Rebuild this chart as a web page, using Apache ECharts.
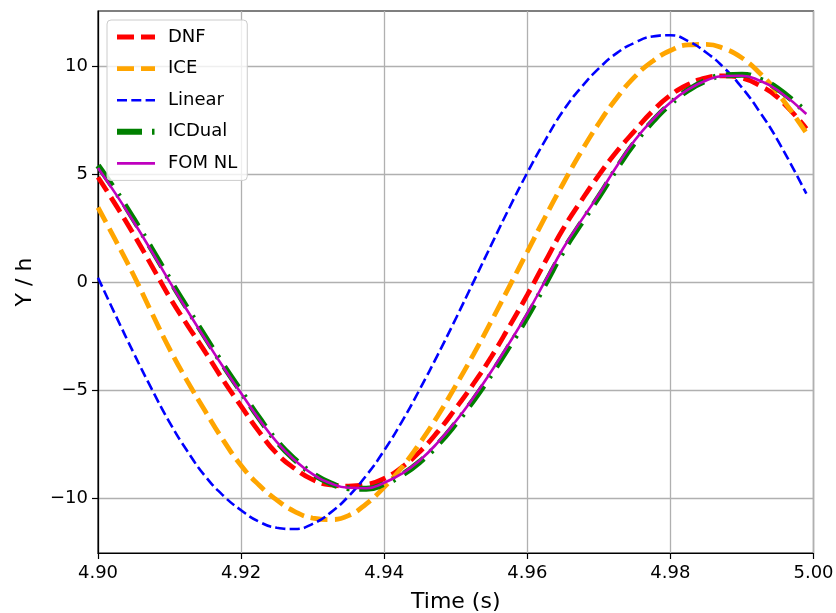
<!DOCTYPE html>
<html>
<head>
<meta charset="utf-8">
<script src="https://cdn.jsdelivr.net/npm/echarts@6/dist/echarts.min.js"></script>
<style>
html,body{margin:0;padding:0;background:#fff;}
#chart{width:836px;height:613px;}
</style>
</head>
<body>
<div id="chart"></div>
<script>
const time = [4.9000, 4.9025, 4.9050, 4.9075, 4.9100, 4.9125, 4.9150, 4.9175, 4.9200, 4.9225,
              4.9250, 4.9275, 4.9300, 4.9325, 4.9350, 4.9375, 4.9400, 4.9425, 4.9450, 4.9475,
              4.9500, 4.9525, 4.9550, 4.9575, 4.9600, 4.9625, 4.9650, 4.9675, 4.9700, 4.9725,
              4.9750, 4.9775, 4.9800, 4.9825, 4.9850, 4.9875, 4.9900, 4.9925, 4.9950, 4.9990];
const dnf    = [4.85, 3.56, 2.2, 0.76, -0.7, -2.0, -3.25, -4.55, -5.75, -6.93,
                -7.95, -8.64, -9.15, -9.4, -9.45, -9.38, -9.1, -8.57, -7.85, -6.93,
                -5.85, -4.7, -3.45, -2.05, -0.6, 0.94, 2.45, 3.74, 4.95, 6.04,
                7.0, 7.91, 8.65, 9.15, 9.45, 9.55, 9.45, 9.1, 8.55, 7.1];
const ice    = [3.45, 1.9, 0.3, -1.42, -3.1, -4.6, -5.99, -7.32, -8.5, -9.4,
                -10.1, -10.63, -10.93, -11.0, -10.82, -10.27, -9.5, -8.57, -7.45, -6.19,
                -4.8, -3.34, -1.8, -0.2, 1.4, 3.01, 4.55, 6.02, 7.35, 8.52,
                9.5, 10.22, 10.72, 10.98, 11.0, 10.81, 10.38, 9.67, 8.75, 6.9];
const linear = [0.2, -1.57, -3.3, -4.95, -6.5, -7.84, -9.0, -9.89, -10.57, -11.1,
                -11.38, -11.44, -11.2, -10.68, -9.93, -8.96, -7.8, -6.45, -4.95, -3.36,
                -1.7, 0.02, 1.74, 3.44, 5.06, 6.56, 7.92, 9.0, 9.89, 10.6,
                11.08, 11.37, 11.43, 11.15, 10.63, 9.92, 9.0, 7.87, 6.56, 4.09];
const icdual = [5.4, 4.2, 2.9, 1.53, 0.12, -1.23, -2.55, -3.85, -5.07, -6.29,
                -7.38, -8.22, -8.88, -9.32, -9.55, -9.58, -9.35, -8.93, -8.32, -7.52,
                -6.55, -5.46, -4.25, -2.96, -1.6, -0.09, 1.42, 2.71, 3.95, 5.26,
                6.45, 7.43, 8.25, 8.89, 9.33, 9.57, 9.6, 9.38, 8.95, 7.85];
const fomnl  = [5.28, 4.07, 2.78, 1.42, 0.02, -1.33, -2.65, -3.94, -5.15, -6.35,
                -7.42, -8.25, -8.9, -9.32, -9.53, -9.55, -9.3, -8.87, -8.25, -7.43,
                -6.45, -5.34, -4.12, -2.82, -1.45, 0.05, 1.55, 2.83, 4.05, 5.36,
                6.55, 7.51, 8.31, 8.92, 9.33, 9.54, 9.55, 9.32, 8.88, 7.78];
const yTicks = [-10, -5, 0, 5, 10];
const seriesNames = ['DNF', 'ICE', 'Linear', 'ICDual', 'FOM NL'];

const FONT = 'DejaVu Sans';
const pair = arr => time.map((t, i) => [t, arr[i]]);
const fmtY = v => (v < 0 ? '\u2212' + Math.abs(v) : String(v));

const styles = {
  'DNF':    {color: '#ff0000', width: 4.8, type: [17, 7]},
  'ICE':    {color: '#ffa500', width: 4.8, type: [17, 7]},
  'Linear': {color: '#0000ff', width: 2.6, type: [10, 4.3]},
  'ICDual': {color: '#008000', width: 6,   type: [25, 10, 2.5, 10]},
  'FOM NL': {color: '#bf00bf', width: 2.6, type: 'solid'}
};
const dataByName = {'DNF': dnf, 'ICE': ice, 'Linear': linear, 'ICDual': icdual, 'FOM NL': fomnl};

const chart = echarts.init(document.getElementById('chart'), null, {renderer: 'canvas'});
chart.setOption({
  animation: false,
  backgroundColor: '#ffffff',
  grid: {left: 98, right: 22.5, top: 11, bottom: 60, outerBoundsMode: 'none', containLabel: false,
         show: true, borderColor: '#000', borderWidth: 1.2, backgroundColor: 'transparent'},
  legend: {
    data: seriesNames.map(n => ({name: n, lineStyle: {width: styles[n].width, type: styles[n].type, color: styles[n].color, cap: 'butt'}})),
    orient: 'vertical',
    left: 107, top: 20,
    padding: [8, 10, 8, 7],
    itemGap: 13.6,
    itemWidth: 38, itemHeight: 14,
    itemStyle: {opacity: 0},
    backgroundColor: 'rgba(255,255,255,0.8)',
    borderColor: '#cccccc', borderWidth: 1, borderRadius: 4,
    textStyle: {fontFamily: FONT, fontSize: 18, color: '#000', padding: [0, 0, 0, 8]}
  },
  xAxis: {
    type: 'value', min: 4.9, max: 5.0, interval: 0.02,
    name: 'Time (s)', nameLocation: 'middle', nameGap: 38,
    nameTextStyle: {fontFamily: FONT, fontSize: 22, color: '#000'},
    axisLine: {show: true, onZero: false, lineStyle: {color: '#000', width: 1.2}},
    axisTick: {show: true, length: 6, lineStyle: {color: '#000', width: 1.2}},
    axisLabel: {fontFamily: FONT, fontSize: 18, color: '#000', margin: 11, formatter: v => v.toFixed(2)},
    splitLine: {show: true, lineStyle: {color: '#b0b0b0', width: 1.3}}
  },
  yAxis: {
    type: 'value', min: -12.55, max: 12.55,
    name: 'Y / h', nameLocation: 'middle', nameGap: 62, nameRotate: 90,
    nameTextStyle: {fontFamily: FONT, fontSize: 22, color: '#000'},
    axisLine: {show: true, onZero: false, lineStyle: {color: '#000', width: 1.2}},
    axisTick: {show: true, length: 6, customValues: yTicks, lineStyle: {color: '#000', width: 1.2}},
    axisLabel: {fontFamily: FONT, fontSize: 18, color: '#000', margin: 10, customValues: yTicks, formatter: fmtY},
    splitLine: {show: true, lineStyle: {color: '#b0b0b0', width: 1.3}}
  },
  series: seriesNames.map(n => ({
    name: n, type: 'line', data: pair(dataByName[n]), smooth: true, symbol: 'none',
    color: styles[n].color,
    lineStyle: {color: styles[n].color, width: styles[n].width, type: styles[n].type, cap: 'butt'}
  }))
});
</script>
</body>
</html>
